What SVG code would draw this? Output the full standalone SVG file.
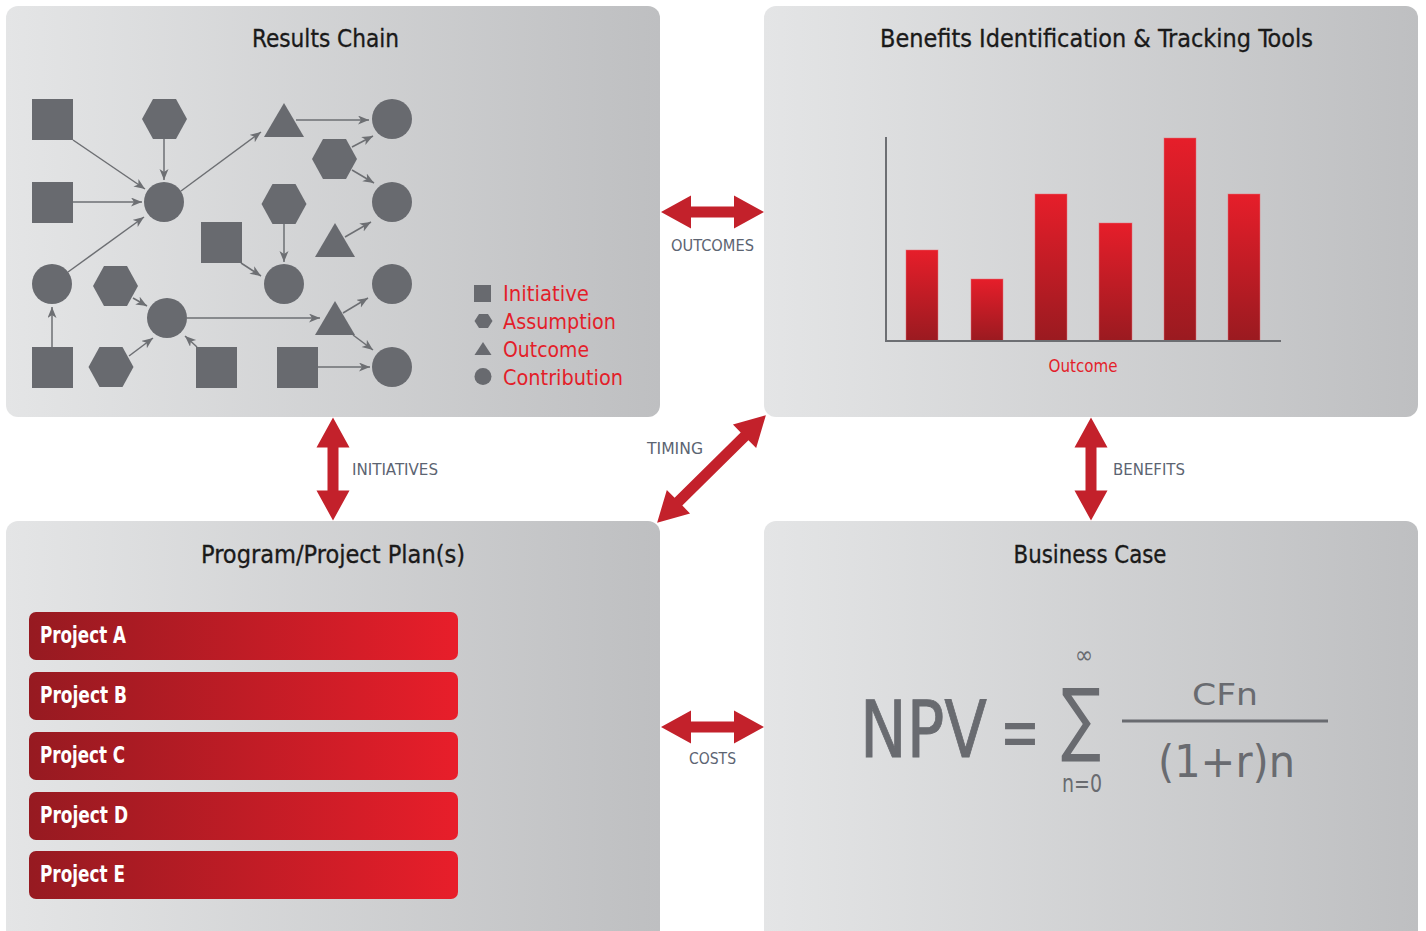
<svg xmlns="http://www.w3.org/2000/svg" width="1426" height="931" viewBox="0 0 1426 931">
<defs>
  <linearGradient id="panelGrad" x1="0" y1="0" x2="1" y2="0">
    <stop offset="0" stop-color="#e4e5e6"/>
    <stop offset="1" stop-color="#bebfc1"/>
  </linearGradient>
  <linearGradient id="projGrad" x1="0" y1="0" x2="1" y2="0">
    <stop offset="0" stop-color="#961a21"/>
    <stop offset="1" stop-color="#e81e2a"/>
  </linearGradient>
  <linearGradient id="barGrad" x1="0" y1="0" x2="0" y2="1">
    <stop offset="0" stop-color="#e61e2a"/>
    <stop offset="1" stop-color="#9a1a20"/>
  </linearGradient>
  <marker id="ah" markerUnits="userSpaceOnUse" markerWidth="12" markerHeight="10" refX="11" refY="4.5" orient="auto">
    <path d="M0,0 L11,4.5 L0,9 L3,4.5 Z" fill="#6d6f73"/>
  </marker>
  <symbol id="sq" overflow="visible"><rect x="-20.5" y="-20.5" width="41" height="41"/></symbol>
  <symbol id="hex" overflow="visible"><polygon points="-22.5,0 -11.5,-20 11.5,-20 22.5,0 11.5,20 -11.5,20"/></symbol>
  <symbol id="tri" overflow="visible"><polygon points="0,-17 20,17 -20,17"/></symbol>
  <symbol id="circ" overflow="visible"><circle r="20"/></symbol>
  <path id="dblH" d="M-51.5,0 L-21.5,-16.5 L-21.5,-5.5 L21.5,-5.5 L21.5,-16.5 L51.5,0 L21.5,16.5 L21.5,5.5 L-21.5,5.5 L-21.5,16.5 Z"/>
</defs>
<style>
  .panel { fill: url(#panelGrad); }
  .title { font-family: "DejaVu Sans Condensed", "Liberation Sans", sans-serif; font-size: 24px; fill: #1a1a1a; text-anchor: middle; stroke: #1a1a1a; stroke-width: 0.3; }
  .node { fill: #686a6f; }
  .conn line { stroke: #6d6f73; stroke-width: 1.5; marker-end: url(#ah); }
  .legend { font-family: "DejaVu Sans Condensed", "Liberation Sans", sans-serif; font-size: 22px; fill: #e31e2a; }
  .lbl { font-family: "DejaVu Sans Condensed", "Liberation Sans", sans-serif; font-size: 16px; fill: #5c6472; }
  .red { fill: #c3212b; }
  .proj { fill: url(#projGrad); }
  .projt { font-family: "DejaVu Sans Condensed", "Liberation Sans", sans-serif; font-size: 23px; font-weight: bold; fill: #ffffff; }
  .bar { fill: url(#barGrad); stroke: #e8727a; stroke-width: 0.8; stroke-opacity: 0.6; }
  .math { font-family: "DejaVu Sans Condensed", "Liberation Sans", sans-serif; fill: #696b70; }
</style>
<rect width="1426" height="931" fill="#ffffff"/>

<!-- Panels -->
<g id="panel-results-chain">
  <rect class="panel" x="6" y="6" width="654" height="411" rx="12"/>
  <text class="title" x="325.5" y="47" textLength="147" lengthAdjust="spacingAndGlyphs">Results Chain</text>
</g>
<g id="panel-benefits">
  <rect class="panel" x="764" y="6" width="654" height="411" rx="12"/>
  <text class="title" x="1096.5" y="47" textLength="433" lengthAdjust="spacingAndGlyphs">Benefits Identification &amp; Tracking Tools</text>
</g>
<g id="panel-plans">
  <rect class="panel" x="6" y="521" width="654" height="430" rx="12"/>
  <text class="title" x="333" y="563" textLength="264" lengthAdjust="spacingAndGlyphs">Program/Project Plan(s)</text>
</g>
<g id="panel-business-case">
  <rect class="panel" x="764" y="521" width="654" height="430" rx="12"/>
  <text class="title" x="1090" y="563" textLength="153" lengthAdjust="spacingAndGlyphs">Business Case</text>
</g>

<!-- Results chain connectors -->
<g id="chain-connectors" class="conn">
  <line x1="73" y1="140" x2="145" y2="189"/>
  <line x1="164" y1="139" x2="164" y2="180"/>
  <line x1="73" y1="202" x2="142" y2="202"/>
  <line x1="68" y1="272" x2="144" y2="217"/>
  <line x1="181" y1="191" x2="261" y2="132"/>
  <line x1="296" y1="120" x2="369" y2="120"/>
  <line x1="352" y1="147" x2="373" y2="136"/>
  <line x1="352" y1="170" x2="374" y2="183"/>
  <line x1="284" y1="224" x2="284" y2="262"/>
  <line x1="345" y1="237" x2="371" y2="222"/>
  <line x1="241" y1="263" x2="261" y2="276"/>
  <line x1="187" y1="318" x2="320" y2="318"/>
  <line x1="343" y1="313" x2="368" y2="298"/>
  <line x1="353" y1="335" x2="373" y2="350"/>
  <line x1="318" y1="367" x2="370" y2="367"/>
  <line x1="52" y1="347" x2="52" y2="307"/>
  <line x1="133" y1="298" x2="147" y2="306"/>
  <line x1="129" y1="356" x2="153" y2="338"/>
  <line x1="197" y1="347" x2="185" y2="336"/>
</g>

<!-- Results chain nodes -->
<g id="sq1" class="node"><use href="#sq" x="52.5" y="119.5"/></g>
<g id="sq2" class="node"><use href="#sq" x="52.5" y="202.5"/></g>
<g id="sq3" class="node"><use href="#sq" x="221.5" y="242.5"/></g>
<g id="sq4" class="node"><use href="#sq" x="52.5" y="367.5"/></g>
<g id="sq5" class="node"><use href="#sq" x="216.5" y="367.5"/></g>
<g id="sq6" class="node"><use href="#sq" x="297.5" y="367.5"/></g>
<g id="hex1" class="node"><use href="#hex" x="164.5" y="119"/></g>
<g id="hex2" class="node"><use href="#hex" x="334.5" y="159"/></g>
<g id="hex3" class="node"><use href="#hex" x="284" y="204"/></g>
<g id="hex4" class="node"><use href="#hex" x="115.5" y="286"/></g>
<g id="hex5" class="node"><use href="#hex" x="111" y="367"/></g>
<g id="tri1" class="node"><use href="#tri" x="284" y="120"/></g>
<g id="tri2" class="node"><use href="#tri" x="335" y="240"/></g>
<g id="tri3" class="node"><use href="#tri" x="335" y="318"/></g>
<g id="circ1" class="node"><use href="#circ" x="164" y="202"/></g>
<g id="circ2" class="node"><use href="#circ" x="392" y="119"/></g>
<g id="circ3" class="node"><use href="#circ" x="392" y="202"/></g>
<g id="circ4" class="node"><use href="#circ" x="52" y="284"/></g>
<g id="circ5" class="node"><use href="#circ" x="284" y="284"/></g>
<g id="circ6" class="node"><use href="#circ" x="392" y="284"/></g>
<g id="circ7" class="node"><use href="#circ" x="167" y="318"/></g>
<g id="circ8" class="node"><use href="#circ" x="392" y="367"/></g>

<!-- Legend -->
<g id="legend">
  <rect class="node" x="474" y="285" width="17" height="17"/>
  <polygon class="node" points="474.5,321 479,314 488,314 492.5,321 488,328 479,328"/>
  <polygon class="node" points="483,342 491.5,355 474.5,355"/>
  <circle class="node" cx="483" cy="376.5" r="8.5"/>
  <text class="legend" x="503" y="301" textLength="86" lengthAdjust="spacingAndGlyphs">Initiative</text>
  <text class="legend" x="503" y="329" textLength="113" lengthAdjust="spacingAndGlyphs">Assumption</text>
  <text class="legend" x="503" y="357" textLength="86" lengthAdjust="spacingAndGlyphs">Outcome</text>
  <text class="legend" x="503" y="385" textLength="120" lengthAdjust="spacingAndGlyphs">Contribution</text>
</g>

<!-- Chart -->
<g id="chart">
  <rect class="bar" x="906" y="250" width="32" height="91"/>
  <rect class="bar" x="971" y="279" width="32" height="62"/>
  <rect class="bar" x="1035" y="194" width="32" height="147"/>
  <rect class="bar" x="1099" y="223" width="33" height="118"/>
  <rect class="bar" x="1164" y="138" width="32" height="203"/>
  <rect class="bar" x="1228" y="194" width="32" height="147"/>
  <path d="M886,137 L886,341 L1281,341" fill="none" stroke="#6d6f73" stroke-width="2"/>
  <text x="1083" y="372" text-anchor="middle" font-family="DejaVu Sans Condensed, Liberation Sans, sans-serif" font-size="17" fill="#e31e2a" textLength="69" lengthAdjust="spacingAndGlyphs">Outcome</text>
</g>

<!-- Projects -->
<g id="projA"><rect class="proj" x="29" y="612" width="429" height="48" rx="7"/><text class="projt" x="40" y="643" textLength="86" lengthAdjust="spacingAndGlyphs">Project A</text></g>
<g id="projB"><rect class="proj" x="29" y="672" width="429" height="48" rx="7"/><text class="projt" x="40" y="703" textLength="87" lengthAdjust="spacingAndGlyphs">Project B</text></g>
<g id="projC"><rect class="proj" x="29" y="732" width="429" height="48" rx="7"/><text class="projt" x="40" y="763" textLength="85" lengthAdjust="spacingAndGlyphs">Project C</text></g>
<g id="projD"><rect class="proj" x="29" y="792" width="429" height="48" rx="7"/><text class="projt" x="40" y="823" textLength="88" lengthAdjust="spacingAndGlyphs">Project D</text></g>
<g id="projE"><rect class="proj" x="29" y="851" width="429" height="48" rx="7"/><text class="projt" x="40" y="882" textLength="85" lengthAdjust="spacingAndGlyphs">Project E</text></g>

<!-- NPV formula -->
<g id="npv-formula" class="math">
  <text x="860" y="757" font-size="79" textLength="127" lengthAdjust="spacingAndGlyphs" stroke="#696b70" stroke-width="0.8">NPV</text>
  <text x="1020" y="758" font-size="76" text-anchor="middle" textLength="40" lengthAdjust="spacingAndGlyphs">=</text>
  <text x="1081" y="746" font-size="81" text-anchor="middle" textLength="40" lengthAdjust="spacingAndGlyphs">∑</text>
  <text x="1084" y="663" font-size="24" text-anchor="middle">∞</text>
  <text x="1082" y="792" font-size="24" text-anchor="middle" textLength="40" lengthAdjust="spacingAndGlyphs">n=0</text>
  <rect x="1122" y="719.5" width="206" height="3"/>
  <text x="1225" y="705" font-size="31" text-anchor="middle" textLength="66" lengthAdjust="spacingAndGlyphs">CFn</text>
  <text x="1226.5" y="777" font-size="44" text-anchor="middle" textLength="137" lengthAdjust="spacingAndGlyphs">(1+r)n</text>
</g>

<!-- Red double arrows between panels -->
<g id="links">
  <use href="#dblH" class="red" transform="translate(712.5,212)"/>
  <use href="#dblH" class="red" transform="translate(712.5,727)"/>
  <use href="#dblH" class="red" transform="translate(333,469) rotate(90)"/>
  <use href="#dblH" class="red" transform="translate(1091,469) rotate(90)"/>
  <path class="red" transform="translate(711.5,469) rotate(-44.7)" d="M-76.5,0 L-46.5,-16.5 L-46.5,-5.5 L46.5,-5.5 L46.5,-16.5 L76.5,0 L46.5,16.5 L46.5,5.5 L-46.5,5.5 L-46.5,16.5 Z"/>
  <text class="lbl" x="712.5" y="251" text-anchor="middle" textLength="83" lengthAdjust="spacingAndGlyphs">OUTCOMES</text>
  <text class="lbl" x="712.5" y="764" text-anchor="middle" textLength="47" lengthAdjust="spacingAndGlyphs">COSTS</text>
  <text class="lbl" x="352" y="475" textLength="86" lengthAdjust="spacingAndGlyphs">INITIATIVES</text>
  <text class="lbl" x="1113" y="475" textLength="72" lengthAdjust="spacingAndGlyphs">BENEFITS</text>
  <text class="lbl" x="675" y="454" text-anchor="middle" textLength="56" lengthAdjust="spacingAndGlyphs">TIMING</text>
</g>
</svg>
